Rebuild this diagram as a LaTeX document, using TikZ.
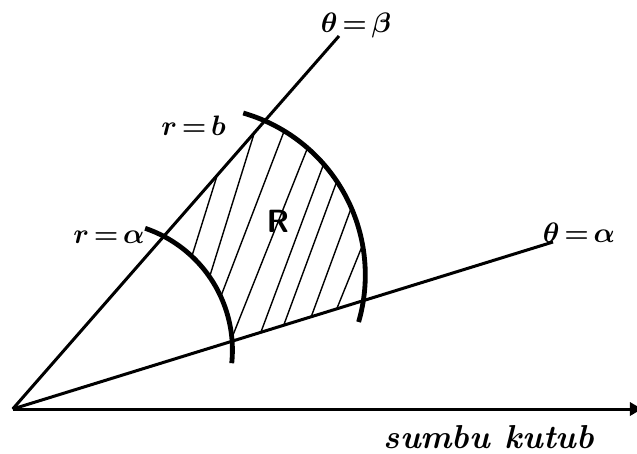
\RequirePackage{fix-cm}
\documentclass[tikz,border=0pt]{standalone}
\usepackage{amsmath}
\usepackage{bm}
\usetikzlibrary{arrows.meta,calc}
\newcommand{\eqsign}{\mkern-2mu=\mkern-2mu}
\begin{document}
\begin{tikzpicture}[x=0.035cm,y=-0.035cm,
  axisline/.style={line width=3pt},
  arcline/.style={line width=4.8pt},
  hatchline/.style={line width=1.4pt},
  lbl/.style={inner sep=0pt, anchor=base, font=\fontsize{28}{32}\selectfont},
]
\useasboundingbox (0,0) rectangle (637,453);
\coordinate (O) at (12.7,409);
\coordinate (B) at (339,36);
\coordinate (A) at (553,242);
\coordinate (X) at (642,409);
\coordinate (ci) at (103.9,350);
\coordinate (co) at (196.8,275);

% hatching of region R
\begin{scope}
  \clip (O) -- ($(O)!2!(B)$) -- ($(O)!2!(A)$) -- cycle;
  \clip (co) circle[radius=5.8975cm];
  \begin{scope}[even odd rule]
  \clip (-100,-100) rectangle (800,600) (ci) circle[radius=4.4975cm];
  \coordinate (h1a) at (193.3,251.7); \coordinate (h1b) at (218.3,171.7);
  \coordinate (h2a) at (211.7,270);   \coordinate (h2b) at (258.3,120);
  \coordinate (h3a) at (223.3,290);   \coordinate (h3b) at (283.3,133.3);
  \coordinate (h4a) at (235,330);     \coordinate (h4b) at (306.7,150);
  \coordinate (h5a) at (261.7,330);   \coordinate (h5b) at (323.3,165);
  \coordinate (h6a) at (285,321.7);   \coordinate (h6b) at (336.7,181.7);
  \coordinate (h7a) at (310,320);     \coordinate (h7b) at (351.7,206.7);
  \coordinate (h8a) at (338.3,305);   \coordinate (h8b) at (363.3,243.3);
  \foreach \i in {1,...,8}{
    \draw[hatchline] ($(h\i a)!-14pt!(h\i b)$) -- ($(h\i b)!-14pt!(h\i a)$);
  }
  \end{scope}
\end{scope}

% rays and polar axis
\draw[axisline] (O) -- (B);
\draw[axisline] (O) -- (A);
\draw[axisline, -{Triangle[length=12pt,width=13pt]}] (O) -- (X);

% arcs r = a and r = b
\draw[arcline] plot[domain=-74:16.2,samples=80] ({196.8+168.5*cos(\x)},{275+168.5*sin(\x)});
\draw[arcline] plot[domain=-71.3:5.9,samples=80] ({103.9+128.5*cos(\x)},{350+128.5*sin(\x)});

% labels
\node[lbl] (tb) at (356,32) {$\bm{\theta \eqsign \beta}$};
\node[lbl] (rb) at (193.5,135) {$\bm{r \eqsign b}$};
\node[lbl] (ra) at (109,243) {$\bm{r \eqsign \alpha}$};
\node[lbl] (ta) at (579,242) {$\bm{\theta \eqsign \alpha}$};
\node[inner sep=0pt, anchor=base, font=\fontsize{32}{36}\selectfont\sffamily\bfseries] (R) at (278,232) {R};
\node[inner sep=0pt, anchor=base, font=\fontsize{33}{38}\selectfont\bfseries\itshape] (sk) at (489,448) {sumbu\hspace{0.45em}kutub};
\end{tikzpicture}
\end{document}
